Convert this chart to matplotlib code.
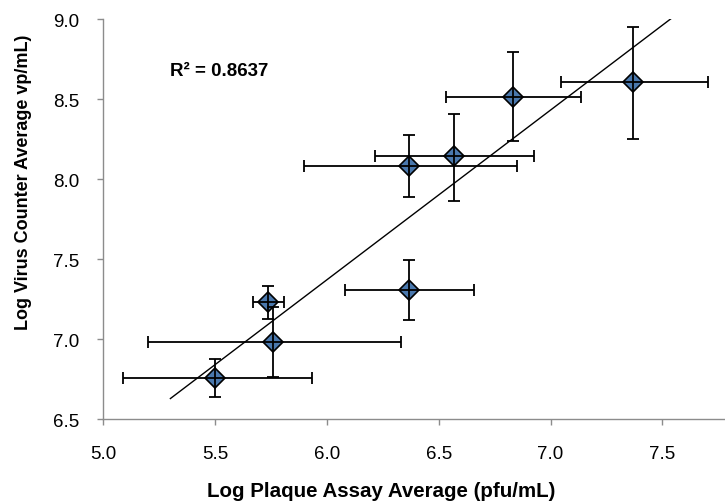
import numpy as np
import matplotlib
matplotlib.use("Agg")
import matplotlib.pyplot as plt

plt.rcParams["font.family"] = ["Liberation Sans", "DejaVu Sans"]

# plaque assay (x) vs virus counter (y), log10 averages
plaque = [5.50, 5.735, 5.76, 6.367, 6.369, 6.57, 6.833, 7.37]
counter = [6.756, 7.229, 6.983, 7.309, 8.083, 8.146, 8.511, 8.604]
x_lo = [5.086, 5.67, 5.202, 6.079, 5.896, 6.213, 6.533, 7.046]
x_hi = [5.934, 5.808, 6.333, 6.656, 6.850, 6.927, 7.136, 7.705]
y_lo = [6.636, 7.123, 6.764, 7.117, 7.889, 7.865, 8.239, 8.25]
y_hi = [6.877, 7.333, 7.198, 7.494, 8.277, 8.406, 8.792, 8.952]
r2_label = "R² = 0.8637"

xticks = [5.0, 5.5, 6.0, 6.5, 7.0, 7.5]
yticks = [6.5, 7.0, 7.5, 8.0, 8.5, 9.0]

x = np.array(plaque)
y = np.array(counter)
xerr = [x - np.array(x_lo), np.array(x_hi) - x]
yerr = [y - np.array(y_lo), np.array(y_hi) - y]

slope, icpt = np.polyfit(x, y, 1)

fig = plt.figure(figsize=(7.25, 5.02), dpi=100)
ax = fig.add_axes([0.1425, 0.1633, 0.8575, 0.7967])

# markers under the error bars, like the Excel original
ax.plot(x, y, "D", ms=10.5, mfc="#4a78ad", mec="black", mew=1.2, zorder=2)
ax.errorbar(x, y, xerr=xerr, yerr=yerr, fmt="none", ecolor="black",
            elinewidth=1.3, capsize=4, capthick=1.3, zorder=3)

fx = np.array([5.3, 7.9])
ax.plot(fx, slope * fx + icpt, color="black", lw=1.0, zorder=4)

ax.text(5.298, 8.68, r2_label, fontsize=13.5, fontweight="bold",
        va="center", ha="left")

ax.set_xlim(5.0, 7.78)
ax.set_ylim(6.5, 9.0)
ax.set_xticks(xticks)
ax.set_yticks(yticks)
ax.xaxis.set_major_formatter(matplotlib.ticker.FormatStrFormatter("%.1f"))
ax.yaxis.set_major_formatter(matplotlib.ticker.FormatStrFormatter("%.1f"))

for s in ["top", "right"]:
    ax.spines[s].set_visible(False)
for s in ["left", "bottom"]:
    ax.spines[s].set_color("#8c8c8c")
    ax.spines[s].set_linewidth(1.0)
ax.tick_params(colors="#8c8c8c", labelcolor="black", labelsize=13.5,
               length=4.5, width=1.0, direction="out")
ax.tick_params(axis="x", pad=14)
ax.tick_params(axis="y", pad=13)

ax.set_xlabel("Log Plaque Assay Average (pfu/mL)", fontsize=14.8,
              fontweight="bold", labelpad=14, x=0.447)
ax.set_ylabel("Log Virus Counter Average vp/mL)", fontsize=13,
              fontweight="bold", labelpad=15, y=0.595)

fig.savefig("out.png", dpi=100)
